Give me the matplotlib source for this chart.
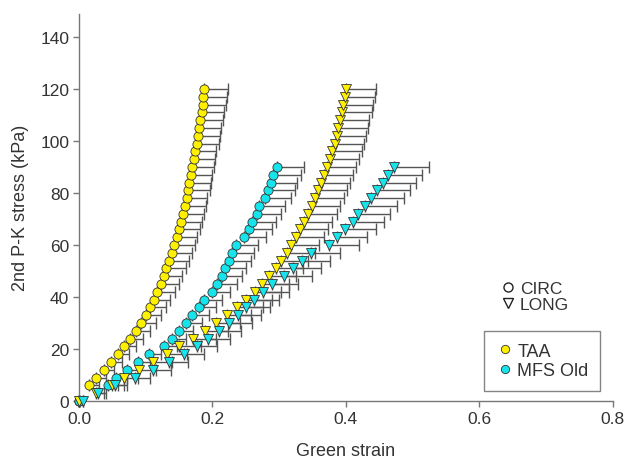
import numpy as np
import matplotlib
matplotlib.use("Agg")
import matplotlib.pyplot as plt
from matplotlib.lines import Line2D

plt.rcParams["font.family"] = ["Liberation Sans", "DejaVu Sans"]

# TAA, circumferential
taa_circ_stress = [0, 6, 9, 12, 15, 18, 21, 24, 27, 30, 33, 36, 39, 42, 45, 48, 51, 54, 57, 60,
                   63, 66, 69, 72, 75, 78, 81, 84, 87, 90, 93, 96, 99, 102, 105, 108, 111, 114, 117, 120]
taa_circ_strain = [0, 0.0145, 0.025, 0.037, 0.048, 0.058, 0.068, 0.077, 0.086, 0.093, 0.100, 0.106,
                   0.112, 0.1175, 0.123, 0.127, 0.131, 0.135, 0.139, 0.143, 0.1465, 0.150, 0.153,
                   0.1565, 0.159, 0.1615, 0.164, 0.1655, 0.168, 0.170, 0.172, 0.174, 0.1765, 0.1785,
                   0.1805, 0.182, 0.184, 0.1855, 0.1865, 0.1875]
taa_circ_err = [0, 0.015, 0.016, 0.016, 0.016, 0.017, 0.018, 0.019, 0.020, 0.022, 0.023, 0.024,
                0.025, 0.026, 0.027, 0.028, 0.029, 0.030, 0.030, 0.031, 0.031, 0.031, 0.031, 0.031,
                0.031, 0.031, 0.032, 0.032, 0.032, 0.032, 0.032, 0.032, 0.033, 0.033, 0.033, 0.034,
                0.034, 0.035, 0.035, 0.036]

# MFS Old, circumferential
mfs_circ_stress = [0, 6, 9, 12, 15, 18, 21, 24, 27, 30, 33, 36, 39, 42, 45, 48, 51, 54, 57, 60,
                   63, 66, 69, 72, 75, 78, 81, 84, 87, 90]
mfs_circ_strain = [0, 0.0435, 0.056, 0.072, 0.0885, 0.1045, 0.127, 0.139, 0.1495, 0.1605, 0.170,
                   0.1795, 0.188, 0.199, 0.2075, 0.214, 0.219, 0.2255, 0.230, 0.2355, 0.247, 0.2545,
                   0.260, 0.2665, 0.2705, 0.2785, 0.2835, 0.2875, 0.2915, 0.2965]
mfs_circ_err = [0, 0.015, 0.016, 0.017, 0.018, 0.019, 0.020, 0.021, 0.022, 0.024, 0.025, 0.026,
                0.027, 0.028, 0.029, 0.030, 0.031, 0.032, 0.033, 0.0335, 0.034, 0.035, 0.036, 0.037,
                0.038, 0.039, 0.040, 0.040, 0.041, 0.041]

# TAA, longitudinal
taa_long_stress = [0, 3, 6, 9, 12, 15, 18, 21, 24, 27, 30, 33, 36, 39, 42, 45, 48, 51, 54, 57, 60,
                   63, 66, 69, 72, 75, 78, 81, 84, 87, 90, 93, 96, 99, 102, 105, 108, 111, 114, 117, 120]
taa_long_strain = [0, 0.026, 0.050, 0.067, 0.0905, 0.111, 0.1315, 0.1505, 0.1715, 0.1885, 0.2055,
                   0.2215, 0.2375, 0.250, 0.2635, 0.275, 0.285, 0.295, 0.303, 0.3115, 0.3185, 0.3253,
                   0.3313, 0.3378, 0.3438, 0.3488, 0.3538, 0.3588, 0.3628, 0.3673, 0.3713, 0.3763,
                   0.3798, 0.3833, 0.3863, 0.3888, 0.3913, 0.3938, 0.3963, 0.3988, 0.4003]
taa_long_err = [0, 0.012, 0.018, 0.022, 0.025, 0.028, 0.030, 0.032, 0.034, 0.035, 0.036, 0.037,
                0.038, 0.039, 0.040, 0.040, 0.041, 0.041, 0.041, 0.042, 0.042, 0.042, 0.042, 0.042,
                0.043, 0.043, 0.043, 0.043, 0.043, 0.043, 0.044, 0.044, 0.044, 0.044, 0.044, 0.044,
                0.044, 0.045, 0.045, 0.045, 0.045]

# MFS Old, longitudinal
mfs_long_stress = [0, 3, 6, 9, 12, 15, 18, 21, 24, 27, 30, 33, 36, 39, 42, 45, 48, 51, 54, 57, 60,
                   63, 66, 69, 72, 75, 78, 81, 84, 87, 90]
mfs_long_strain = [0.006, 0.028, 0.054, 0.084, 0.1115, 0.1355, 0.158, 0.1765, 0.194, 0.2105, 0.2255,
                   0.238, 0.250, 0.2625, 0.2765, 0.289, 0.308, 0.3215, 0.334, 0.3475, 0.3755, 0.3873,
                   0.3988, 0.4103, 0.4188, 0.4288, 0.4378, 0.4463, 0.4553, 0.4638, 0.4723]
mfs_long_err = [0, 0.012, 0.018, 0.022, 0.026, 0.028, 0.030, 0.031, 0.032, 0.033, 0.034, 0.035,
                0.036, 0.037, 0.038, 0.040, 0.041, 0.042, 0.043, 0.044, 0.044, 0.045, 0.046, 0.047,
                0.048, 0.048, 0.049, 0.050, 0.050, 0.051, 0.052]

yellow = "#FFF000"
cyan = "#16E3EA"
grey = "#666666"
text_c = "#333333"

fig = plt.figure(figsize=(6.26, 4.6), dpi=100)
ax = fig.add_axes([0.1262, 0.1261, 0.8524, 0.842])

series = [
    (taa_circ_strain, taa_circ_stress, taa_circ_err, yellow, "o", 6.6),
    (mfs_circ_strain, mfs_circ_stress, mfs_circ_err, cyan, "o", 6.6),
    (taa_long_strain, taa_long_stress, taa_long_err, yellow, "v", 7.2),
    (mfs_long_strain, mfs_long_stress, mfs_long_err, cyan, "v", 7.2),
]

# one-sided horizontal error bars first, then markers on top
for x, y, e, c, m, ms in series:
    e = np.array(e)
    ax.errorbar(x, y, xerr=[np.zeros_like(e), e], fmt="none", ecolor="#555555",
                elinewidth=1.0, capsize=4.5, capthick=1.0, zorder=2, clip_on=False)
for x, y, e, c, m, ms in series:
    ax.plot(x, y, linestyle="none", marker=m, markersize=ms, markerfacecolor=c,
            markeredgecolor="#333333", markeredgewidth=0.6, zorder=3, clip_on=False)

ax.set_xlim(0, 0.8)
ax.set_ylim(0, 149)
ax.set_xticks([0, 0.2, 0.4, 0.6, 0.8])
ax.set_xticklabels(["0.0", "0.2", "0.4", "0.6", "0.8"])
ax.set_yticks(range(0, 141, 20))
for s in ["top", "right"]:
    ax.spines[s].set_visible(False)
for s in ["left", "bottom"]:
    ax.spines[s].set_color("#777777")
    ax.spines[s].set_linewidth(1.0)
ax.tick_params(direction="out", length=4, width=1, color="#777777",
               labelsize=12.5, labelcolor=text_c, pad=3)

ax.set_xlabel("Green strain", fontsize=13, color=text_c, labelpad=12)
ax.set_ylabel("2nd P-K stress (kPa)", fontsize=13, color=text_c, labelpad=8)

# direction legend (open symbols, no frame)
dir_handles = [
    Line2D([], [], linestyle="none", marker="o", markersize=6.5, markerfacecolor="white",
           markeredgecolor="#222222", markeredgewidth=1.0),
    Line2D([], [], linestyle="none", marker="v", markersize=6.5, markerfacecolor="white",
           markeredgecolor="#222222", markeredgewidth=1.0),
]
leg1 = fig.legend(dir_handles, ["CIRC", "LONG"], loc="upper left",
                  bbox_to_anchor=(487 / 626, 1 - 270 / 460), frameon=False,
                  fontsize=12.5, handletextpad=0.2, labelspacing=0.05,
                  handlelength=1.0, borderpad=0.2, labelcolor=text_c)

# group legend (filled dots, framed)
grp_handles = [
    Line2D([], [], linestyle="none", marker="o", markersize=6, markerfacecolor=yellow,
           markeredgecolor="#333333", markeredgewidth=0.6),
    Line2D([], [], linestyle="none", marker="o", markersize=6, markerfacecolor=cyan,
           markeredgecolor="#333333", markeredgewidth=0.6),
]
leg2 = fig.legend(grp_handles, ["TAA", "MFS Old"], loc="upper left",
                  bbox_to_anchor=(484 / 626, 1 - 332 / 460), frameon=True, fancybox=False,
                  fontsize=13, handletextpad=0.2, labelspacing=0.15, handlelength=1.0,
                  borderpad=0.65, borderaxespad=0, labelcolor=text_c)
leg2.get_frame().set_edgecolor(grey)
leg2.get_frame().set_linewidth(1.0)

fig.savefig("out.png", dpi=100)
